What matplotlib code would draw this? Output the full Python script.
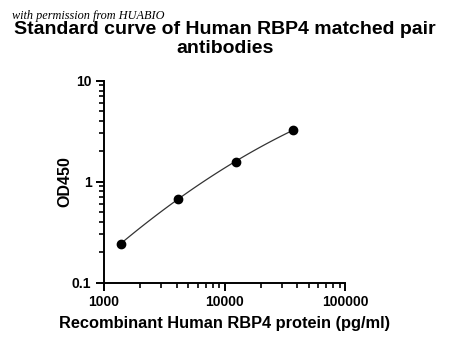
import numpy as np
import matplotlib
matplotlib.use("Agg")
import matplotlib.pyplot as plt
from matplotlib.ticker import LogLocator, FixedLocator, NullFormatter

# standard curve data (3-fold dilutions)
conc = [1372, 4115, 12346, 37037]
od450 = [0.241, 0.679, 1.57, 3.25]

x_ticks = [1000, 10000, 100000]
x_tick_labels = ["1000", "10000", "100000"]
y_ticks = [0.1, 1, 10]
y_tick_labels = ["0.1", "1", "10"]

plt.rcParams["font.family"] = ["Liberation Sans", "DejaVu Sans"]
plt.rcParams["font.weight"] = "bold"

fig = plt.figure(figsize=(4.5, 3.51), dpi=100)
ax = fig.add_axes([0.231, 0.195, 0.536, 0.575])

# quadratic fit in log-log space for the smooth curve
lx = np.log10(conc)
ly = np.log10(od450)
coef = np.polyfit(lx, ly, 2)
xs = np.linspace(lx[0], lx[-1], 100)
ax.plot(10 ** xs, 10 ** np.polyval(coef, xs), color="#333333", lw=0.9)
ax.plot(conc, od450, "o", color="black", ms=6)

ax.set_xscale("log")
ax.set_yscale("log")
ax.set_xlim(1000, 100000)
ax.set_ylim(0.1, 10)

ax.xaxis.set_major_locator(FixedLocator(x_ticks))
ax.set_xticklabels(x_tick_labels)
ax.yaxis.set_major_locator(FixedLocator(y_ticks))
ax.set_yticklabels(y_tick_labels)
ax.xaxis.set_minor_locator(LogLocator(base=10, subs=np.arange(2, 10)))
ax.yaxis.set_minor_locator(LogLocator(base=10, subs=np.arange(2, 10)))
ax.xaxis.set_minor_formatter(NullFormatter())
ax.yaxis.set_minor_formatter(NullFormatter())

for s in ["top", "right"]:
    ax.spines[s].set_visible(False)
for s in ["left", "bottom"]:
    ax.spines[s].set_linewidth(1.4)

ax.tick_params(which="major", length=6, width=1.4, labelsize=10, pad=3)
ax.tick_params(which="minor", length=3.5, width=1.2)
for lab in ax.get_xticklabels() + ax.get_yticklabels():
    lab.set_fontweight("bold")

ax.set_xlabel("Recombinant Human RBP4 protein (pg/ml)", fontsize=11.8,
              fontweight="bold", labelpad=5)
ax.set_ylabel("OD450", fontsize=11.5, fontweight="bold", labelpad=0)

fig.text(0.5, 0.838, "Standard curve of Human RBP4 matched pair\nantibodies",
         ha="center", va="bottom", fontsize=14, fontweight="bold",
         linespacing=1.12)
fig.text(0.026, 0.955, "with permission from HUABIO", ha="left", va="center",
         fontsize=8.8, style="italic", fontweight="normal",
         family=["Liberation Serif", "DejaVu Serif"])

fig.savefig("out.png", dpi=100)
